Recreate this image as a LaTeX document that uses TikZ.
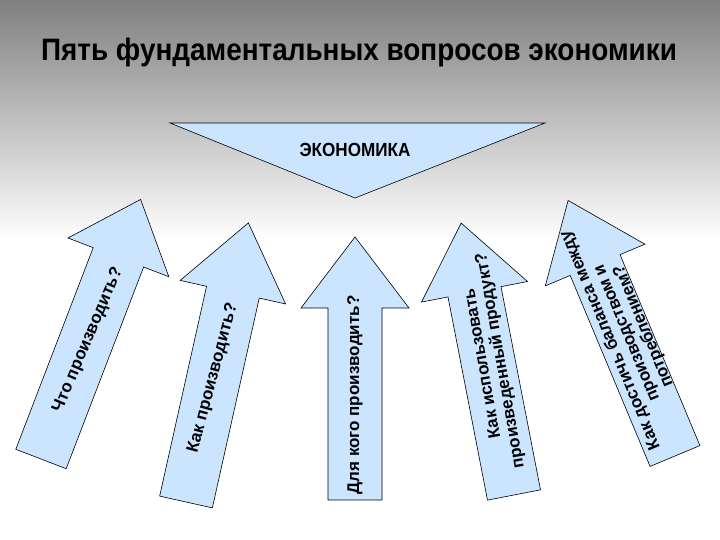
\documentclass[tikz,border=0pt]{standalone}
\usepackage{fontspec}
\setmainfont{Liberation Sans}
\tikzset{
  arrowfill/.style={fill=blue!50!cyan!20!white, draw=black, line width=0.6pt},
  lbl/.style={font=\bfseries\fontsize{17}{18}\selectfont, align=center, text=black, inner sep=0pt},
}
\newcommand\bigarrow[5]{% x, y, angle, shaft length, head length
  \begin{scope}[shift={(#1,#2)}, rotate=#3]
    \draw[arrowfill] (0,-27) -- (#4,-27) -- (#4,-54) -- ({#4+#5},0) -- (#4,54) -- (#4,27) -- (0,27) -- cycle;
  \end{scope}}
\begin{document}
\begin{tikzpicture}[x=1pt,y=1pt]
  \useasboundingbox (0,0) rectangle (720,540);
  \fill[white] (0,0) rectangle (720,540);
  \shade[top color=black!50, bottom color=white] (0,300) rectangle (720,540);
  \node[font=\bfseries\fontsize{31}{34}\selectfont, xscale=0.9] (title) at (359,488) {Пять фундаментальных вопросов экономики};
  \draw[arrowfill] (170,417) -- (545,417) -- (355,342) -- cycle;
  \node[lbl, font=\bfseries\fontsize{19}{20}\selectfont, xscale=0.9] (eco) at (355,390) {ЭКОНОМИКА};
  \bigarrow{41}{81}{69}{216}{62}
  \bigarrow{186}{38}{77.4}{215}{71}
  \bigarrow{355}{40}{90}{192}{71}
  \bigarrow{514}{45}{101}{207}{70}
  \bigarrow{675}{84}{112.7}{207}{70}
  \node[lbl, rotate=67] (q1) at (88,200) {Что производить?};
  \node[lbl, rotate=75] (q2) at (213,162) {Как производить?};
  \node[lbl, rotate=90] (q3) at (355,145) {Для кого производить?};
  \node[lbl, rotate=100] (q4) at (492,178) {Как использовать\\произведенный продукт?};
  \node[lbl, rotate=112.7] (q5) at (627,207) {Как достичь баланса между\\производством и\\потреблением?};
\end{tikzpicture}
\end{document}
